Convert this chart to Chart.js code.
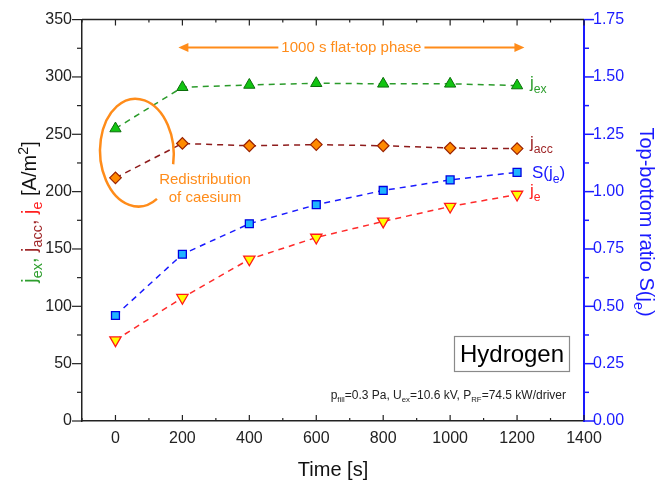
<!DOCTYPE html>
<html>
<head>
<meta charset="utf-8">
<script src="https://cdn.jsdelivr.net/npm/chart.js@4.4.1/dist/chart.umd.min.js"></script>
<style>
  html, body { margin: 0; padding: 0; background: #fff; }
  #wrap { width: 664px; height: 481px; }
</style>
</head>
<body>
<div id="wrap"><canvas id="chart" width="664" height="481"></canvas></div>
<script>
// time in s
const times = [0, 200, 400, 600, 800, 1000, 1200];
// current densities in A/m2
const jEx = [255, 291, 293, 294.5, 294, 294, 292.5];
const jAcc = [212, 242, 240, 241, 240, 238, 237.5];
const jE = [70.5, 107.5, 141, 160, 174, 187, 197.5];
// top-bottom ratio (right axis)
const sJe = [0.46, 0.727, 0.86, 0.943, 1.005, 1.051, 1.084];

const xTicks = [0, 200, 400, 600, 800, 1000, 1200, 1400];
const yTicks = [0, 50, 100, 150, 200, 250, 300, 350];
const y1Ticks = [0, 0.25, 0.5, 0.75, 1.0, 1.25, 1.5, 1.75];

const FONT = '"Liberation Sans", Arial, sans-serif';
const ORANGE = '#ff8c1a';
const BLUE = '#1a1aff';

const pts = vals => times.map((t, i) => ({ x: t, y: vals[i] }));

// text with sub/superscripts, y is the baseline
function rich(ctx, parts, x, y, size, align, subRatio) {
    const r = subRatio || 0.72;
    let w = 0;
    parts.forEach(p => {
        ctx.font = (p[2] ? size * r : size) + 'px ' + FONT;
        w += ctx.measureText(p[0]).width;
    });
    let cx = align === 'right' ? x - w : align === 'center' ? x - w / 2 : x;
    ctx.textAlign = 'left';
    ctx.textBaseline = 'alphabetic';
    parts.forEach(p => {
        ctx.font = (p[2] ? size * r : size) + 'px ' + FONT;
        ctx.fillStyle = p[1];
        const dy = p[2] === 'sub' ? size * 0.28 : p[2] === 'sup' ? -size * 0.42 : 0;
        ctx.fillText(p[0], cx, y + dy);
        cx += ctx.measureText(p[0]).width;
    });
}

const overlay = {
    id: 'overlay',
    afterDraw(chart) {
        const ctx = chart.ctx;
        const { left, right, top, bottom } = chart.chartArea;
        const sx = chart.scales.x, sy = chart.scales.y, sy1 = chart.scales.y1;
        ctx.save();

        // top frame line
        ctx.strokeStyle = '#222';
        ctx.lineWidth = 1.5;
        ctx.beginPath();
        ctx.moveTo(left, top);
        ctx.lineTo(right, top);
        ctx.stroke();

        // x ticks, inward, top and bottom
        ctx.lineWidth = 1.2;
        for (let v = -100; v <= 1400; v += 100) {
            const px = sx.getPixelForValue(v);
            const len = v % 200 === 0 ? 6 : 3;
            ctx.beginPath();
            ctx.moveTo(px, bottom); ctx.lineTo(px, bottom - len);
            ctx.moveTo(px, top); ctx.lineTo(px, top + len);
            ctx.stroke();
        }
        // left ticks, outward
        for (let v = 0; v <= 350; v += 25) {
            const py = sy.getPixelForValue(v);
            const len = v % 50 === 0 ? 10 : 5;
            ctx.beginPath();
            ctx.moveTo(left, py); ctx.lineTo(left - len, py);
            ctx.stroke();
        }
        // right ticks, outward, blue
        ctx.strokeStyle = BLUE;
        ctx.lineWidth = 1.5;
        for (let i = 0; i <= 14; i++) {
            const v = i * 0.125;
            const py = sy1.getPixelForValue(v);
            const len = i % 2 === 0 ? 10 : 5;
            ctx.beginPath();
            ctx.moveTo(right, py); ctx.lineTo(right + len, py);
            ctx.stroke();
        }

        // flat-top arrow
        const ay = sy.getPixelForValue(325.7);
        const ax1 = sx.getPixelForValue(188), ax2 = sx.getPixelForValue(1222);
        const amid = (ax1 + ax2) / 2;
        ctx.font = '15px ' + FONT;
        const tw = ctx.measureText('1000 s flat-top phase').width;
        ctx.strokeStyle = ORANGE;
        ctx.fillStyle = ORANGE;
        ctx.lineWidth = 2;
        ctx.beginPath();
        ctx.moveTo(ax1 + 8, ay); ctx.lineTo(amid - tw / 2 - 3, ay);
        ctx.moveTo(amid + tw / 2 + 3, ay); ctx.lineTo(ax2 - 8, ay);
        ctx.stroke();
        ctx.beginPath();
        ctx.moveTo(ax1, ay); ctx.lineTo(ax1 + 10, ay - 4.5); ctx.lineTo(ax1 + 10, ay + 4.5); ctx.closePath();
        ctx.moveTo(ax2, ay); ctx.lineTo(ax2 - 10, ay - 4.5); ctx.lineTo(ax2 - 10, ay + 4.5); ctx.closePath();
        ctx.fill();
        ctx.textAlign = 'center';
        ctx.textBaseline = 'middle';
        ctx.fillText('1000 s flat-top phase', amid, ay);

        // caesium ellipse
        const ex = sx.getPixelForValue(64), ey = sy.getPixelForValue(234);
        const rx = sx.getPixelForValue(64 + 110) - ex;
        const ry = ey - sy.getPixelForValue(234 + 47);
        ctx.lineWidth = 2.5;
        ctx.beginPath();
        ctx.ellipse(ex, ey, rx, ry, -0.05, Math.PI * 0.34, Math.PI * 2.08);
        ctx.stroke();
        ctx.font = '15px ' + FONT;
        ctx.textAlign = 'center';
        ctx.textBaseline = 'alphabetic';
        ctx.fillText('Redistribution', 205, 184);
        ctx.fillText('of caesium', 205, 202);

        // series labels
        rich(ctx, [['j', '#2e9e2e'], ['ex', '#2e9e2e', 'sub']], 530, 88, 17);
        rich(ctx, [['j', '#a0282a'], ['acc', '#a0282a', 'sub']], 530, 148, 17);
        rich(ctx, [['S(j', BLUE], ['e', BLUE, 'sub'], [')', BLUE]], 532, 178, 17);
        rich(ctx, [['j', '#ff2020'], ['e', '#ff2020', 'sub']], 530, 196, 17);

        // Hydrogen box
        ctx.strokeStyle = '#8a8a8a';
        ctx.lineWidth = 1.2;
        ctx.strokeRect(454.5, 336.5, 115, 35);
        ctx.font = '24px ' + FONT;
        ctx.fillStyle = '#000';
        ctx.textAlign = 'center';
        ctx.textBaseline = 'alphabetic';
        ctx.fillText('Hydrogen', 512, 362);

        // conditions
        const k = '#222';
        rich(ctx, [['p', k], ['fill', k, 'sub'], ['=0.3 Pa, U', k], ['ex', k, 'sub'], ['=10.6 kV, P', k],
            ['RF', k, 'sub'], ['=74.5 kW/driver', k]], 566, 399, 12, 'right', 0.65);

        // x title
        ctx.font = '20px ' + FONT;
        ctx.fillStyle = '#111';
        ctx.textAlign = 'center';
        ctx.textBaseline = 'alphabetic';
        ctx.fillText('Time [s]', (left + right) / 2, 476);

        // left title
        ctx.save();
        ctx.translate(36, 212);
        ctx.rotate(-Math.PI / 2);
        rich(ctx, [['j', '#2e9e2e'], ['ex', '#2e9e2e', 'sub'], [', ', '#2e9e2e'],
            ['j', '#a0282a'], ['acc', '#a0282a', 'sub'], [', ', '#a0282a'],
            ['j', '#ff2020'], ['e', '#ff2020', 'sub'], [' [A/m', '#111'], ['2', '#111', 'sup'], [']', '#111']],
            0, 0, 20, 'center');
        ctx.restore();

        // right title
        ctx.save();
        ctx.translate(640, 222);
        ctx.rotate(Math.PI / 2);
        rich(ctx, [['Top-bottom ratio S(j', BLUE], ['e', BLUE, 'sub'], [')', BLUE]], 0, 0, 20, 'center');
        ctx.restore();

        ctx.restore();
    }
};

new Chart(document.getElementById('chart'), {
    type: 'line',
    data: {
        datasets: [
            {
                label: 'jex', data: pts(jEx), yAxisID: 'y',
                borderColor: '#2b9b2b', borderDash: [6, 5], borderWidth: 1.5,
                pointStyle: 'triangle', pointRadius: 6.5, pointRotation: 0,
                pointBackgroundColor: '#12c412', pointBorderColor: '#0b6e0b', pointBorderWidth: 1
            },
            {
                label: 'jacc', data: pts(jAcc), yAxisID: 'y',
                borderColor: '#8e1c1c', borderDash: [6, 5], borderWidth: 1.5,
                pointStyle: 'rectRot', pointRadius: 5.8,
                pointBackgroundColor: '#ff8a00', pointBorderColor: '#9a2200', pointBorderWidth: 1.2
            },
            {
                label: 'S(je)', data: pts(sJe), yAxisID: 'y1',
                borderColor: '#1a1aff', borderDash: [6, 5], borderWidth: 1.5,
                pointStyle: 'rect', pointRadius: 5.6,
                pointBackgroundColor: '#1eb4ff', pointBorderColor: '#0000e0', pointBorderWidth: 1.3
            },
            {
                label: 'je', data: pts(jE), yAxisID: 'y',
                borderColor: '#ff2a2a', borderDash: [6, 5], borderWidth: 1.5,
                pointStyle: 'triangle', pointRadius: 6.5, pointRotation: 180,
                pointBackgroundColor: '#ffff00', pointBorderColor: '#ff1a1a', pointBorderWidth: 1.3
            }
        ]
    },
    options: {
        responsive: false,
        animation: false,
        layout: { padding: { top: 17, left: 0, right: 0, bottom: 0 } },
        plugins: { legend: { display: false }, tooltip: { enabled: false } },
        scales: {
            x: {
                type: 'linear', min: -100, max: 1400,
                afterBuildTicks: s => { s.ticks = xTicks.map(v => ({ value: v })); },
                afterFit: s => { s.height = 60; },
                grid: { display: true, drawOnChartArea: false, drawTicks: false },
                border: { display: true, color: '#222', width: 1.5 },
                ticks: { color: '#222', font: { family: FONT, size: 16 }, padding: 8, maxRotation: 0, callback: v => String(v) }
            },
            y: {
                position: 'left', min: 0, max: 350,
                afterBuildTicks: s => { s.ticks = yTicks.map(v => ({ value: v })); },
                afterFit: s => { s.width = 82; },
                grid: { display: true, drawOnChartArea: false, drawTicks: false },
                border: { display: true, color: '#222', width: 1.5 },
                ticks: { color: '#222', font: { family: FONT, size: 16 }, padding: 10, callback: v => String(v) }
            },
            y1: {
                position: 'right', min: 0, max: 1.75,
                afterBuildTicks: s => { s.ticks = y1Ticks.map(v => ({ value: v })); },
                afterFit: s => { s.width = 80; },
                grid: { display: true, drawOnChartArea: false, drawTicks: false },
                border: { display: true, color: BLUE, width: 2 },
                ticks: { color: BLUE, font: { family: FONT, size: 16 }, padding: 9, callback: v => v.toFixed(2) }
            }
        }
    },
    plugins: [overlay]
});
</script>
</body>
</html>
